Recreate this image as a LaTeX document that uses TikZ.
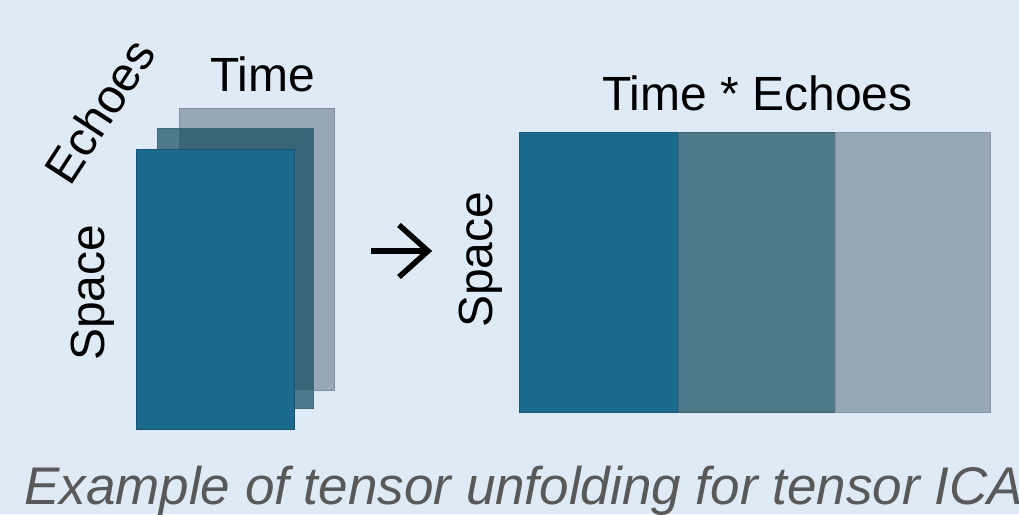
\documentclass[tikz,border=0pt]{standalone}
\usepackage{fontspec}
\setmainfont{Liberation Sans}
\definecolor{bg}{HTML}{DEEBF7}
\definecolor{slabA}{HTML}{1C698E}
\definecolor{slabB}{HTML}{4E7A8C}
\definecolor{slabBover}{HTML}{386578}
\definecolor{slabC}{HTML}{96A8B5}
\definecolor{captiongray}{HTML}{595959}
\tikzset{
  slab/.style={line width=0.8pt},
  lbl/.style={inner sep=0pt, font=\fontsize{48}{56}\selectfont, text=black},
  captionstyle/.style={inner sep=0pt, font=\fontsize{53}{62}\selectfont\itshape, text=captiongray},
  arrowstroke/.style={line width=5.5pt, black}
}
\begin{document}
\begin{tikzpicture}[x=1pt,y=-1pt]
\useasboundingbox (0,0) rectangle (1019,514);
\clip (0,0) rectangle (1019,514);
\fill[bg] (0,0) rectangle (1019,514);
% left stack
\filldraw[slab, fill=slabC, draw=slabC!85!black] (179,108) rectangle (334,390);
\filldraw[slab, fill=slabB, draw=slabB!85!black] (157,128) rectangle (313,408);
\fill[slabBover] (179,128) rectangle (313,390);
\filldraw[slab, fill=slabA, draw=slabA!80!black] (136,149) rectangle (294,429);
% right unfolded matrix
\filldraw[slab, fill=slabA, draw=slabA!85!black] (519,132) rectangle (678,412);
\filldraw[slab, fill=slabB, draw=slabB!80!black] (678,132) rectangle (835,412);
\filldraw[slab, fill=slabC, draw=slabC!90!black] (835,132) rectangle (990,412);
% labels
\node[lbl, anchor=base west] (time) at (210,91.5) {Time};
\node[lbl, anchor=base west, rotate=57] (echoes) at (70,188) {Echoes};
\node[lbl, anchor=base west, rotate=90] (spaceL) at (104,361) {Space};
\node[lbl, anchor=base west] (timeechoes) at (602,110) {Time * Echoes};
\node[lbl, anchor=base west, rotate=90] (spaceR) at (492,328) {Space};
% arrow
\coordinate (a0) at (371,251);
\coordinate (a1) at (428,251);
\coordinate (h0) at (399,225);
\coordinate (h1) at (399,277);
\draw[arrowstroke] (a0) -- (a1);
\draw[arrowstroke, miter limit=10] (h0) -- (a1) -- (h1);
% caption
\node[captionstyle, anchor=base west] (caption) at (24,504) {Example of tensor unfolding for tensor ICA};
\end{tikzpicture}
\end{document}
